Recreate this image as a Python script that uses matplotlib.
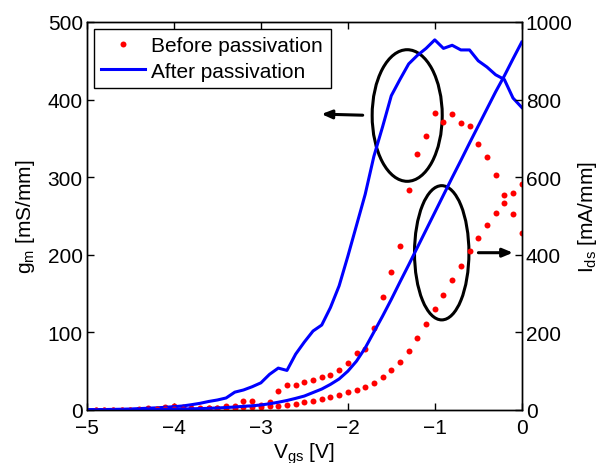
import matplotlib
matplotlib.use("Agg")
import matplotlib.pyplot as plt
from matplotlib.patches import Ellipse

plt.rcParams['font.family'] = ['Liberation Sans', 'DejaVu Sans']
plt.rcParams['mathtext.fontset'] = 'custom'
plt.rcParams['mathtext.rm'] = 'Liberation Sans'
plt.rcParams['mathtext.it'] = 'Liberation Sans'

# Gate voltage grid (V)
vgs = [-5.0, -4.9, -4.8, -4.7, -4.6, -4.5, -4.4, -4.3, -4.2, -4.1,
       -4.0, -3.9, -3.8, -3.7, -3.6, -3.5, -3.4, -3.3, -3.2, -3.1,
       -3.0, -2.9, -2.8, -2.7, -2.6, -2.5, -2.4, -2.3, -2.2, -2.1,
       -2.0, -1.9, -1.8, -1.7, -1.6, -1.5, -1.4, -1.3, -1.2, -1.1,
       -1.0, -0.9, -0.8, -0.7, -0.6, -0.5, -0.4, -0.3, -0.2, -0.1, 0.0]

# Before passivation (dots), from -4.9 V to 0 V
gm_before = [0.5, 0.5, 0.5, 0.5, 0.6, 0.7, 2.2, 1.5, 4.3,
             5.5, 4.3, 2.5, 2.0, 2.5, 3.0, 5.5, 5.5, 11.6, 12.0,
             6.0, 10.0, 25.0, 32.0, 32.0, 35.7, 38.7, 43.0, 45.0, 52.0,
             60.5, 74.0, 78.6, 105.7, 146.0, 178.0, 211.0, 283.5, 330.0, 353.0,
             383.0, 371.5, 382.0, 370.0, 366.0, 343.0, 326.0, 303.0, 277.0, 253.0, 228.0]
ids_before = [0.5, 0.6, 0.7, 0.8, 0.9, 1.0, 1.2, 1.5, 1.8,
              2.0, 2.5, 3.0, 3.5, 4.0, 4.5, 5.0, 6.0, 7.0, 7.0,
              7.0, 9.5, 11.0, 13.0, 16.0, 20.0, 24.0, 28.0, 33.5, 38.7,
              45.6, 52.0, 60.0, 70.0, 85.0, 104.0, 124.5, 153.0, 185.6, 221.0,
              259.5, 296.0, 335.0, 372.0, 409.0, 443.0, 476.0, 507.0, 534.0, 560.0, 582.0]

# After passivation (lines), from -5 V to 0 V
gm_after = [0.4, 0.5, 0.6, 0.8, 1.0, 1.3, 1.8, 2.3, 2.8, 3.5,
            4.3, 5.2, 6.8, 8.6, 11.0, 12.9, 15.5, 23.0, 25.8, 30.0,
            35.0, 46.0, 54.0, 51.0, 72.0, 87.6, 101.8, 109.5, 132.0, 160.0,
            198.0, 238.0, 278.0, 327.0, 365.0, 405.0, 426.0, 446.0, 457.0, 466.0,
            477.0, 466.0, 470.0, 464.0, 464.0, 450.0, 442.0, 432.0, 426.0, 402.0, 390.0]
ids_after = [0.5, 0.6, 0.7, 0.8, 0.9, 1.0, 1.2, 1.4, 1.6, 1.8,
             2.0, 2.5, 3.0, 3.6, 4.4, 5.2, 6.4, 7.7, 9.5, 10.8,
             13.0, 16.0, 20.0, 24.5, 30.0, 36.0, 45.0, 54.0, 66.0, 80.0,
             100.0, 126.0, 160.0, 201.0, 242.0, 285.0, 330.0, 374.0, 419.0, 464.0,
             509.0, 554.0, 599.0, 643.0, 688.0, 732.0, 776.0, 820.0, 861.0, 905.0, 948.0]

xticks = [-5, -4, -3, -2, -1, 0]
xticklabels = ['\u22125', '\u22124', '\u22123', '\u22122', '\u22121', '0']
gm_ticks = [0, 100, 200, 300, 400, 500]
ids_ticks = [0, 200, 400, 600, 800, 1000]

fig = plt.figure(figsize=(6.06, 4.64), dpi=100)
ax = fig.add_axes([87/606, 1 - 411/464, 434.7/606, 388/464])
ax2 = ax.twinx()

FS = 15
red = '#ff0000'
blue = '#0000ff'

ax.plot(vgs[1:], gm_before, 'o', color=red, ms=4.3, mec='none', label='Before passivation')
ax.plot(vgs, gm_after, '-', color=blue, lw=2.2, label='After passivation')
ax2.plot(vgs[1:], ids_before, 'o', color=red, ms=4.3, mec='none')
ax2.plot(vgs, ids_after, '-', color=blue, lw=2.2)

ax.set_xlim(-5, 0)
ax.set_ylim(0, 500)
ax2.set_ylim(0, 1000)
ax.set_xticks(xticks)
ax.set_xticklabels(xticklabels)
ax.set_yticks(gm_ticks)
ax2.set_yticks(ids_ticks)

for a in (ax, ax2):
    a.tick_params(direction='in', labelsize=FS, length=5, width=1, pad=3)
    for s in a.spines.values():
        s.set_linewidth(1.0)
ax.tick_params(axis='x', top=True, pad=6)

ax.set_xlabel(r'V$_{\rm gs}$ [V]', fontsize=FS, labelpad=2)
ax.set_ylabel(r'g$_{\rm m}$ [mS/mm]', fontsize=FS, labelpad=8)
ax2.set_ylabel(r'I$_{\rm ds}$ [mA/mm]', fontsize=FS, labelpad=2, rotation=90)

# annotations: ellipses and arrows (in gm data coordinates)
ax.add_patch(Ellipse((-1.317, 379.5), 0.806, 169.6, fill=False, ec='black', lw=2.2))
ax.add_patch(Ellipse((-0.920, 202.6), 0.626, 173.0, fill=False, ec='black', lw=2.2))
ax.annotate('', xy=(-2.335, 381.4), xytext=(-1.797, 379.8),
            arrowprops=dict(arrowstyle='-|>,head_length=0.6,head_width=0.25', color='black', lw=2.2))
ax.annotate('', xy=(-0.069, 202.7), xytext=(-0.530, 202.7),
            arrowprops=dict(arrowstyle='-|>,head_length=0.6,head_width=0.25', color='black', lw=2.2))

leg = ax.legend(loc='upper left', bbox_to_anchor=(0.0165, 0.982), fontsize=FS,
                frameon=True, fancybox=False, edgecolor='black', framealpha=1,
                handlelength=2.1, handletextpad=0.3, borderpad=0.35, labelspacing=0.3,
                borderaxespad=0.0, numpoints=1)
leg.get_frame().set_linewidth(1.0)

fig.savefig('out.png', dpi=100)
